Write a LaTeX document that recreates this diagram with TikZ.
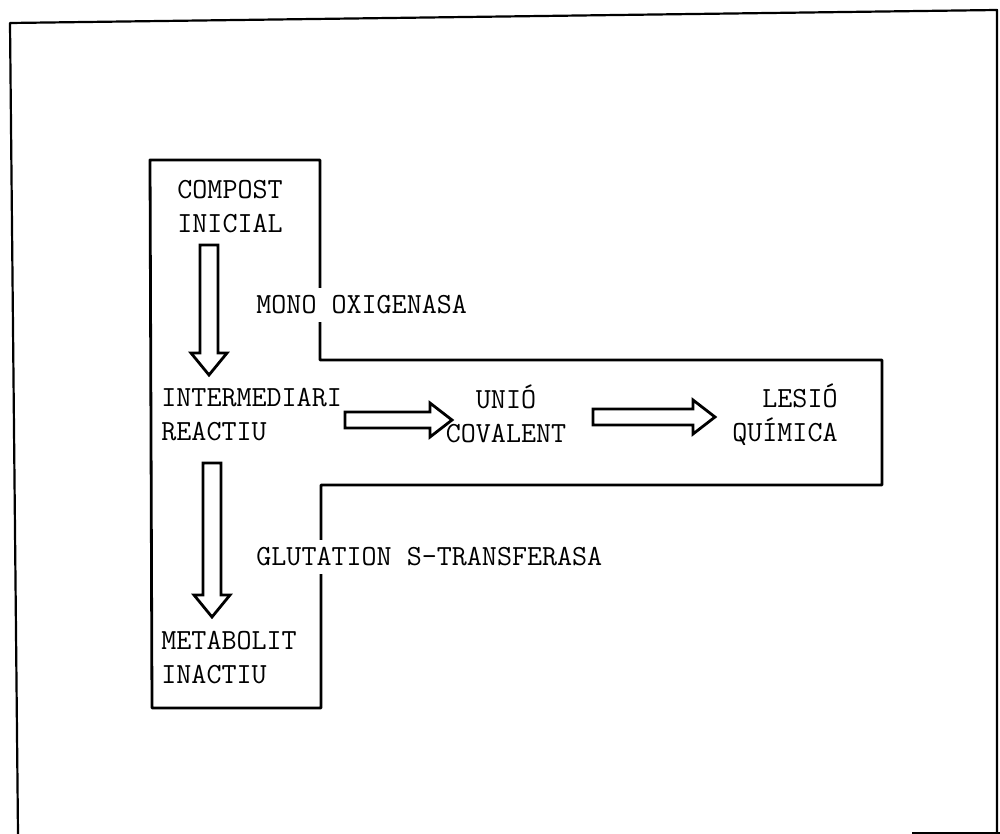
\documentclass[tikz,border=0pt]{standalone}
\usepackage{fontspec}
\begin{document}
\begin{tikzpicture}[x=0.5pt,y=-0.5pt,
  frame/.style={line width=1.1pt,line join=round},
  tee/.style={line width=1.4pt,line join=round},
  arr/.style={line width=1.4pt,line join=miter,fill=white},
  lbl/.style={font=\ttfamily\fontsize{14.6}{17}\selectfont,inner sep=0pt},
  enz/.style={lbl,fill=white,inner ysep=4pt}]
\useasboundingbox (0,0) rectangle (1000,834);
% outer frame (slightly skewed scan)
\draw[frame] (18,834) -- (10,23) -- (997,10) -- (997,834);
\draw[frame] (912,833) -- (1000,833);
% T-shaped outline
\draw[tee] (150,160) -- (320,160) -- (320,360) -- (882,360) -- (882,485)
  -- (321,485) -- (321,708) -- (152,708) -- cycle;
% block arrows
\newcommand\blockV[3]{%
  \draw[arr] (#1-9,#2) -- (#1+9,#2) -- (#1+9,#3-22) -- (#1+18,#3-22) -- (#1,#3)
    -- (#1-18,#3-22) -- (#1-9,#3-22) -- cycle;}
\newcommand\blockH[3]{%
  \draw[arr] (#1,#3-8) -- (#2-22,#3-8) -- (#2-22,#3-17) -- (#2,#3) -- (#2-22,#3+17)
    -- (#2-22,#3+8) -- (#1,#3+8) -- cycle;}
% labels
\node[lbl,anchor=west,align=left] (ci) at (177,207) {COMPOST\\INICIAL};
\node[lbl,anchor=west,align=left] (ir) at (161,415) {INTERMEDIARI\\REACTIU};
\node[lbl,anchor=center,align=center] (uc) at (506,414) {UNIÓ\\COVALENT};
\node[lbl,anchor=east,align=right] (lq) at (838,415) {LESIÓ\\QUÍMICA};
\node[lbl,anchor=west,align=left] (mi) at (161,658) {METABOLIT\\INACTIU};
\node[enz,anchor=west] (mo) at (256,305) {MONO OXIGENASA};
\node[enz,anchor=west] (gs) at (256,557) {GLUTATION S-TRANSFERASA};
% connectors
\blockV{209}{245}{375}
\blockV{212}{463}{617}
\blockH{345}{452}{420}
\blockH{593}{715}{417}
\end{tikzpicture}
\end{document}
